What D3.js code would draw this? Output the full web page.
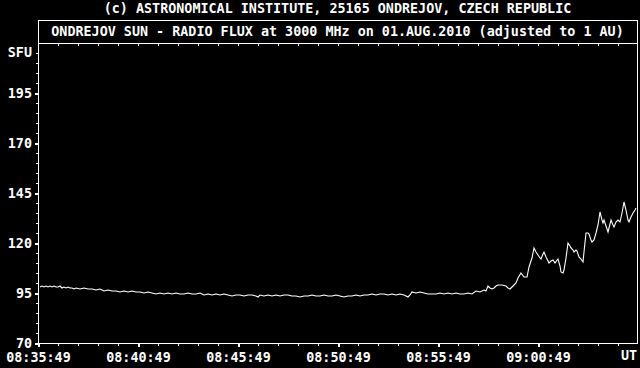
<!DOCTYPE html>
<html>
<head>
<meta charset="utf-8">
<script src="https://cdn.jsdelivr.net/npm/d3@7"></script>
<style>
  html, body { margin: 0; padding: 0; background: #000; }
  svg text { font-family: "DejaVu Sans Mono", monospace; font-size: 13.4px; font-weight: bold; fill: #fff; }
</style>
</head>
<body>
<svg id="chart"></svg>
<script>
var copyright = "(c) ASTRONOMICAL INSTITUTE, 25165 ONDREJOV, CZECH REPUBLIC";
var title = "ONDREJOV SUN - RADIO FLUX at 3000 MHz on 01.AUG.2010 (adjusted to 1 AU)";
var startTime = "08:35:49";
var endSeconds = 1797;
var xTickLabels = ["08:35:49", "08:40:49", "08:45:49", "08:50:49", "08:55:49", "09:00:49"];
var yTicks = [70, 95, 120, 145, 170, 195];

// seconds after 08:35:49
var seconds = [6, 12, 18, 24, 30, 36, 42, 48, 54, 60, 66, 72, 78, 84, 90, 96, 102, 108, 114, 126,
  138, 150, 162, 174, 186, 198, 210, 222, 234, 246, 258, 270, 282, 294, 306, 318, 330, 342, 354, 366,
  378, 390, 402, 414, 426, 438, 450, 462, 474, 486, 498, 510, 522, 534, 546, 558, 570, 582, 594, 606,
  618, 630, 642, 654, 660, 666, 678, 690, 702, 714, 726, 738, 750, 762, 774, 786, 798, 810, 822, 834,
  846, 858, 870, 882, 894, 906, 918, 930, 942, 954, 966, 978, 990, 1002, 1014, 1026, 1038, 1050, 1062, 1074,
  1086, 1098, 1110, 1116, 1122, 1134, 1146, 1158, 1170, 1182, 1194, 1206, 1218, 1230, 1242, 1254, 1266, 1278, 1290, 1302,
  1314, 1326, 1338, 1344, 1350, 1356, 1362, 1368, 1374, 1380, 1392, 1404, 1410, 1416, 1422, 1428, 1434, 1440, 1449, 1458,
  1467, 1473, 1482, 1488, 1494, 1500, 1506, 1509, 1515, 1518, 1524, 1533, 1539, 1545, 1551, 1557, 1560, 1566, 1569, 1575,
  1578, 1584, 1590, 1596, 1599, 1605, 1608, 1614, 1617, 1623, 1629, 1635, 1638, 1644, 1650, 1653, 1659, 1662, 1668, 1674,
  1680, 1686, 1692, 1695, 1698, 1704, 1710, 1713, 1719, 1725, 1728, 1734, 1740, 1746, 1752, 1758, 1764, 1770, 1773, 1779,
  1785, 1791, 1794];

// flux in SFU
var flux = [98.0, 98.5, 98.0, 98.5, 98.0, 98.5, 98.0, 98.5, 98.0, 98.0, 98.5, 97.5, 98.0, 97.5, 98.0, 97.5, 97.5, 97.0, 97.5, 97.0,
  97.5, 97.0, 97.0, 96.5, 97.0, 96.0, 96.5, 96.0, 96.0, 95.5, 96.0, 95.5, 96.0, 95.5, 95.5, 95.0, 95.5, 95.0, 94.5, 95.0,
  94.5, 95.0, 94.5, 95.0, 94.5, 94.5, 95.0, 94.5, 94.5, 95.0, 94.0, 94.5, 94.0, 94.5, 94.0, 94.5, 94.0, 93.5, 94.0, 94.0,
  93.5, 94.0, 94.0, 93.5, 93.0, 94.0, 93.5, 94.0, 93.5, 94.0, 93.5, 94.0, 94.0, 93.5, 93.5, 93.0, 93.5, 93.5, 94.0, 93.5,
  93.5, 94.0, 93.5, 93.5, 94.0, 93.5, 93.0, 93.5, 93.5, 94.0, 93.5, 94.0, 94.0, 94.5, 94.0, 94.5, 94.5, 94.0, 94.5, 94.0,
  94.5, 94.0, 93.0, 94.0, 95.5, 95.0, 95.5, 95.0, 94.5, 94.5, 94.5, 95.0, 94.5, 95.0, 94.5, 95.0, 94.5, 94.5, 95.0, 94.5,
  96.0, 95.5, 96.5, 96.0, 98.5, 97.5, 97.0, 97.5, 98.5, 99.0, 99.0, 98.5, 97.5, 97.0, 98.0, 99.0, 100.0, 102.5, 105.0, 103.0,
  103.0, 108.0, 112.5, 117.5, 115.5, 114.0, 112.5, 112.0, 114.5, 115.5, 113.0, 110.0, 111.0, 111.5, 110.0, 111.5, 112.0, 108.5, 105.5, 105.0,
  106.5, 112.5, 120.0, 118.5, 117.5, 116.5, 115.5, 116.5, 116.0, 113.0, 112.0, 110.5, 115.5, 125.0, 125.0, 124.5, 121.5, 120.5, 121.5, 125.0,
  129.0, 135.5, 131.5, 130.0, 131.5, 128.5, 125.5, 127.5, 131.5, 129.0, 128.0, 130.5, 131.5, 130.5, 135.0, 140.5, 136.5, 131.5, 130.5, 133.0,
  135.0, 136.5, 137.5];

var width = 640, height = 368;
var plotLeft = 38, plotRight = 637, plotTop = 43, plotBottom = 343, titleTop = 20;

var svg = d3.select("#chart").attr("width", width).attr("height", height);
svg.append("rect").attr("width", width).attr("height", height).attr("fill", "#000");

var parse = d3.timeParse("%H:%M:%S");
var t0 = parse(startTime);

var x = d3.scaleTime()
  .domain([t0, d3.timeSecond.offset(t0, endSeconds)])
  .range([plotLeft, plotRight]);

var y = d3.scaleLinear()
  .domain([70, 220])
  .range([plotBottom, plotTop]);

// top texts
svg.append("text")
  .attr("x", (plotLeft + plotRight) / 2).attr("y", 13)
  .attr("text-anchor", "middle")
  .text(copyright);

svg.append("rect")
  .attr("x", plotLeft + 0.5).attr("y", titleTop + 0.5)
  .attr("width", plotRight - plotLeft).attr("height", plotTop - titleTop)
  .attr("fill", "none").attr("stroke", "#fff")
  .attr("shape-rendering", "crispEdges");

svg.append("text")
  .attr("x", (plotLeft + plotRight) / 2).attr("y", 36)
  .attr("text-anchor", "middle")
  .text(title);

// plot frame
svg.append("rect")
  .attr("x", plotLeft + 0.5).attr("y", plotTop + 0.5)
  .attr("width", plotRight - plotLeft).attr("height", plotBottom - plotTop)
  .attr("fill", "none").attr("stroke", "#fff")
  .attr("shape-rendering", "crispEdges");

// minor ticks
var minuteTicks = d3.range(0, 30).map(function (i) { return d3.timeMinute.offset(t0, i); });
var yMinor = d3.range(70, 220, 5);

function whiteTicks(g) {
  g.select(".domain").remove();
  g.selectAll("line").attr("stroke", "#fff").attr("shape-rendering", "crispEdges");
}

svg.append("g")
  .attr("transform", "translate(0," + (plotBottom + 1) + ")")
  .call(d3.axisBottom(x).tickValues(minuteTicks).tickSize(2).tickFormat(""))
  .call(whiteTicks);

svg.append("g")
  .attr("transform", "translate(0," + (plotTop + 1) + ")")
  .call(d3.axisBottom(x).tickValues(minuteTicks).tickSize(2).tickFormat(""))
  .call(whiteTicks);

svg.append("g")
  .attr("transform", "translate(" + plotLeft + ",0)")
  .call(d3.axisLeft(y).tickValues(yMinor).tickSize(2).tickFormat(""))
  .call(whiteTicks);

// major x ticks + labels
var xMajor = xTickLabels.map(parse);
var xAxis = svg.append("g")
  .attr("transform", "translate(0," + (plotBottom + 1) + ")")
  .call(d3.axisBottom(x).tickValues(xMajor).tickSize(3).tickPadding(5)
    .tickFormat(d3.timeFormat("%H:%M:%S")));
xAxis.call(whiteTicks);
xAxis.selectAll("line").attr("stroke-width", 2);
xAxis.selectAll("text").attr("font-family", null).attr("font-size", null);

svg.append("text")
  .attr("x", plotRight).attr("y", 360)
  .attr("text-anchor", "end")
  .text("UT");

// major y ticks + labels
var yAxis = svg.append("g")
  .attr("transform", "translate(" + plotLeft + ",0)")
  .call(d3.axisLeft(y).tickValues(yTicks).tickSize(3).tickPadding(3));
yAxis.call(whiteTicks);
yAxis.selectAll("line").attr("stroke-width", 2);
yAxis.selectAll("text").attr("font-family", null).attr("font-size", null);

svg.append("text")
  .attr("x", plotLeft - 6).attr("y", 57)
  .attr("text-anchor", "end")
  .text("SFU");

// data line
var points = seconds.map(function (s, i) {
  return { t: d3.timeSecond.offset(t0, s), v: flux[i] };
});

svg.append("path")
  .datum(points)
  .attr("fill", "none")
  .attr("stroke", "#fff")
  .attr("stroke-width", 1.1)
  .attr("d", d3.line()
    .x(function (d) { return x(d.t); })
    .y(function (d) { return y(d.v); }));
</script>
</body>
</html>
